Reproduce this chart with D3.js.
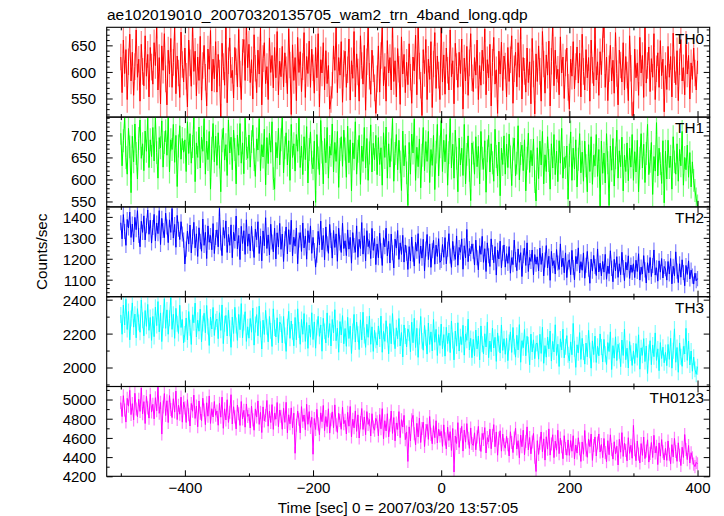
<!DOCTYPE html>
<html><head><meta charset="utf-8">
<script src="https://cdn.jsdelivr.net/npm/d3@7"></script>
<style>body{margin:0;background:#fff} svg{display:block} text{font-family:"Liberation Sans",Arial,Helvetica,sans-serif;fill:#000}</style>
</head><body><svg id="c" width="724" height="516"></svg>
<script>
const title = "ae102019010_20070320135705_wam2_trn_4band_long.qdp";
const xLabel = "Time [sec] 0 = 2007/03/20 13:57:05";
const yLabel = "Counts/sec";
const bands = ["TH0","TH1","TH2","TH3","TH0123"];
const colors = ["#ff0000","#00ff00","#0000ff","#00ffff","#ff00ff"];
const tStart = -500, tStep = 2;
const xDomain = [-522, 419];
const xTicksMajor = [-400,-200,0,200,400];
const xTicksMinor = [-500,-300,-100,100,300];
const yDomains = [[515,684],[537.7,741.6],[1018.7,1447.8],[1888,2417.6],[4200,5135.6]];
const yTicksMajor = [[550,600,650],[550,600,650,700],[1100,1200,1300,1400],[2000,2200,2400],[4200,4400,4600,4800,5000]];
const yTicksMinor = [
  [520,530,540,560,570,580,590,610,620,630,640,660,670,680],
  [540,560,570,580,590,610,620,630,640,660,670,680,690,710,720,730,740],
  [1020,1040,1060,1080,1120,1140,1160,1180,1220,1240,1260,1280,1320,1340,1360,1380,1420,1440],
  [1900,2100,2300],
  [4300,4500,4700,4900,5100]
];
const errHalf = [25,26,36,47,68];

const th0 = [
628,561,660,597,642,548,619,671,583,637,556,610,679,590,624,545,652,601,574,668,592,633,553,646,609,
577,655,612,688,566,627,540,649,603,672,587,538,641,596,663,571,618,684,559,630,598,552,675,614,581,
645,592,534,660,617,573,691,601,639,555,628,584,667,547,612,650,590,536,643,605,678,564,624,587,657,
562,633,598,515,654,610,575,687,542,621,664,589,603,551,646,619,572,680,596,548,637,661,584,695,608,
652,580,623,549,670,607,561,641,596,683,538,625,655,578,610,548,664,599,631,570,646,589,676,557,620,
591,648,572,636,604,559,681,613,520,651,584,627,546,665,599,638,563,610,674,552,629,597,658,571,643,
608,560,646,589,672,534,623,598,655,566,640,578,612,530,548,575,649,603,685,561,627,594,657,543,616,
639,571,604,662,547,621,588,676,553,634,600,545,668,612,577,650,528,619,683,592,558,641,606,570,522,
587,649,562,631,684,574,610,545,659,598,627,566,690,582,621,553,644,605,539,666,596,633,561,618,576,
653,590,541,628,602,669,557,688,611,575,518,642,597,661,548,624,586,657,533,615,674,569,630,594,548,
690,581,632,558,645,603,566,679,591,621,540,654,610,571,637,597,662,530,626,583,648,556,617,672,589,
563,627,594,660,548,612,575,641,602,681,557,623,589,652,536,618,665,577,604,522,639,596,656,565,630,
611,553,646,582,623,668,541,606,637,572,655,590,687,549,627,601,562,645,580,619,540,663,596,521,634,
582,649,601,545,676,615,560,632,594,658,536,620,692,574,641,587,605,557,666,598,628,550,617,645,571,
530,624,592,657,568,610,647,579,635,553,671,601,566,642,589,627,545,660,603,574,688,585,619,556,638,
595,662,689,571,628,546,606,650,583,622,560,674,597,538,641,613,581,655,566,629,594,546,668,607,518,
520,643,589,617,556,665,598,631,552,684,579,612,647,563,625,590,672,548,606,636,571,659,593,624,525,
612,567,648,590,629,553,673,604,576,640,546,619,661,583,608,557,652,596,631,549,617,586,645,598,566,
621];

const th1 = [
705,631,688,742,650,612,716,674,570,698,640,726,659,601,693,735,648,681,620,710,664,739,627,690,652,
718,642,741,661,603,695,672,733,628,684,711,655,741,617,690,668,725,639,700,584,676,722,646,693,662,
690,618,731,659,704,637,675,741,595,683,650,719,626,696,664,738,612,687,645,709,578,671,727,640,698,
632,706,651,572,688,717,644,679,609,735,660,696,622,712,668,590,701,655,727,637,683,613,739,670,648,
701,628,686,723,645,607,692,667,738,620,679,651,714,588,695,636,705,662,731,602,578,684,649,716,633,
690,741,615,672,706,633,688,598,725,650,681,619,702,664,739,627,676,611,697,645,720,592,668,708,639,
624,687,548,702,649,611,734,662,590,693,638,718,603,675,655,726,617,684,641,709,582,668,697,630,712,
669,605,721,638,690,574,683,647,731,612,664,700,589,676,641,718,626,693,598,660,724,617,682,645,700,
611,695,634,672,587,706,650,719,603,681,628,667,738,596,659,702,622,689,640,575,710,631,677,615,541,
684,612,703,660,737,598,673,629,692,581,655,718,620,686,641,709,593,668,632,700,577,662,725,608,674,
734,618,689,640,702,587,661,738,626,680,603,712,648,572,694,633,671,609,725,590,657,699,621,552,683,
660,612,697,629,675,590,709,648,623,688,571,665,700,617,681,638,596,714,652,608,685,563,671,634,699,
612,680,627,703,651,586,669,694,608,637,722,599,659,678,620,690,574,648,705,616,666,631,692,595,551,
672,602,687,633,709,590,656,618,697,643,578,681,626,702,611,664,595,688,637,716,603,650,627,676,555,
655,708,598,671,624,690,583,646,704,615,662,596,687,631,572,679,618,697,589,655,631,702,607,668,540,
687,614,660,592,704,638,541,676,621,693,585,649,712,603,665,629,696,574,655,618,683,597,671,628,702,
598,663,617,689,572,648,704,626,680,593,659,725,611,641,684,566,652,619,729,608,671,636,591,688,547,
664,601,689,627,653,578,697,640,612,681,596,668,631,709,587,650,622,678,605,661,583,640,598,575,556,
540];

const th2 = [
1372,1295,1411,1330,1264,1388,1347,1423,1302,1366,1281,1398,1339,1430,1311,1257,1379,1326,1405,1290,1358,1433,1317,1384,1275,
1349,1412,1286,1371,1320,1430,1268,1393,1335,1301,1418,1352,1277,1386,1326,1440,1299,1364,1255,1407,1341,1292,1377,1318,1289,
1175,1246,1332,1270,1361,1228,1305,1374,1252,1319,1211,1348,1283,1236,1390,1264,1326,1201,1357,1279,1311,1243,1368,1225,1302,
1338,1257,1440,1276,1215,1349,1298,1381,1230,1316,1264,1362,1205,1327,1285,1404,1247,1311,1196,1355,1273,1334,1221,1386,1260,
1319,1238,1355,1272,1206,1341,1291,1377,1225,1308,1190,1333,1262,1396,1249,1314,1218,1365,1280,1233,1346,1199,1324,1256,1369,
1245,1318,1187,1296,1352,1223,1339,1268,1384,1214,1303,1260,1347,1176,1290,1325,1235,1371,1252,1309,1198,1334,1277,1357,1226,
1302,1239,1160,1217,1331,1266,1380,1243,1311,1195,1352,1271,1226,1364,1288,1203,1335,1254,1319,1188,1346,1276,1230,1370,1249,
1286,1215,1338,1246,1302,1179,1325,1263,1231,1357,1207,1293,1249,1373,1222,1310,1190,1334,1258,1286,1201,1345,1240,1297,1172,
1271,1205,1322,1238,1168,1300,1257,1346,1214,1283,1180,1318,1229,1156,1294,1251,1335,1197,1276,1221,1312,1184,1266,1227,1149,
1258,1189,1304,1222,1165,1279,1236,1320,1178,1261,1203,1293,1142,1247,1316,1196,1271,1159,1238,1288,1174,1265,1211,1296,1183,
1192,1268,1207,1301,1176,1245,1320,1213,1159,1283,1226,1197,1309,1169,1254,1231,1295,1150,1262,1204,1340,1186,1249,1224,1271,
1236,1170,1289,1205,1147,1262,1221,1307,1183,1248,1139,1276,1214,1163,1295,1230,1181,1258,1122,1241,1199,1284,1157,1227,1266,
1160,1224,1178,1258,1131,1205,1172,1289,1196,1143,1247,1183,1229,1115,1214,1251,1168,1276,1139,1206,1187,1242,1123,1220,1174,
1209,1142,1251,1173,1226,1118,1194,1263,1156,1212,1097,1235,1167,1191,1127,1244,1180,1149,1271,1161,1203,1133,1228,1110,1185,
1195,1124,1240,1158,1099,1211,1176,1252,1132,1186,1145,1228,1107,1169,1235,1150,1083,1198,1141,1216,1163,1120,1247,1137,1179,
1118,1187,1136,1221,1102,1165,1129,1238,1154,1090,1197,1142,1210,1111,1176,1124,1231,1158,1095,1183,1146,1214,1106,1170,1135,
1176,1110,1193,1139,1224,1098,1160,1127,1215,1147,1084,1181,1133,1206,1115,1168,1242,1122,1157,1093,1190,1136,1201,1108,1163,
1152,1098,1187,1127,1201,1080,1164,1119,1233,1141,1086,1176,1112,1195,1134,1071,1168,1125,1190,1103,1146,1117,1079,1131,1095,
1105];

const th3 = [
2310,2196,2368,2251,2402,2224,2330,2163,2289,2381,2238,2315,2175,2347,2266,2208,2398,2279,2187,2336,2243,2372,2219,2295,2160,
2301,2182,2356,2247,2389,2210,2322,2153,2278,2405,2231,2340,2196,2290,2417,2225,2314,2172,2349,2258,2201,2367,2236,2283,2145,
2198,2292,2163,2330,2235,2136,2311,2264,2380,2180,2279,2214,2345,2152,2260,2320,2205,2366,2242,2130,2298,2227,2354,2189,2270,
2286,2170,2323,2219,2369,2141,2258,2307,2186,2338,2232,2119,2297,2201,2355,2248,2160,2313,2223,2377,2175,2265,2329,2154,2240,
2173,2289,2208,2350,2132,2254,2312,2187,2362,2226,2109,2279,2195,2337,2240,2151,2301,2216,2124,2346,2233,2180,2293,2146,2268,
2256,2145,2301,2189,2095,2240,2331,2172,2274,2210,2128,2295,2163,2346,2221,2137,2284,2196,2318,2154,2265,2113,2250,2179,2323,
2165,2269,2114,2236,2302,2184,2251,2096,2290,2213,2145,2322,2177,2259,2127,2283,2204,2341,2158,2232,2090,2271,2192,2306,2140,
2230,2125,2296,2171,2244,2083,2212,2313,2150,2268,2197,2106,2281,2163,2326,2189,2119,2255,2178,2304,2137,2240,2095,2219,2160,
2132,2245,2168,2303,2090,2213,2154,2276,2195,2081,2259,2140,2318,2183,2111,2234,2170,2289,2127,2206,2062,2251,2186,2121,2228,
2204,2093,2267,2146,2290,2118,2231,2060,2183,2301,2157,2102,2248,2175,2079,2262,2136,2210,2098,2283,2149,2225,2071,2194,2130,
2256,2110,2194,2067,2237,2141,2203,2088,2274,2159,2045,2215,2126,2264,2097,2182,2135,2249,2073,2198,2160,2285,2104,2172,2058,
2166,2069,2221,2110,2186,2045,2245,2137,2080,2199,2121,2267,2058,2156,2093,2232,2115,2178,2036,2204,2140,2085,2251,2101,2170,
2078,2172,2040,2147,2210,2089,2236,2123,2061,2190,2104,2253,2031,2158,2117,2224,2069,2184,2135,2016,2197,2092,2163,2052,2141,
2143,2049,2196,2083,2237,2025,2129,2061,2180,2110,2215,2038,2154,2092,2252,2071,2137,2006,2169,2104,2226,2057,2122,2188,2075,
2039,2151,2075,2260,2110,2001,2134,2087,2206,2048,2172,2092,2020,2144,2063,2219,2101,1996,2157,2076,2185,2030,2125,2069,2198,
2121,2033,2166,2078,2018,2147,2094,2210,1988,2129,2055,2181,2041,2137,2099,2005,2162,2071,2226,2046,2114,1997,2153,2085,2012,
2098,2024,2141,2059,2193,1990,2116,2072,2170,2035,2127,1965,2089,2158,2017,2133,2064,2204,2042,2110,1981,2147,2053,2120,2028,
2089,2011,2136,2048,2172,1996,2099,2228,2031,2118,1972,2145,2064,2007,2124,2080,2231,2042,2156,2015,2097,1978,2061,1989,1960,
2005];

const th0123 = [
4968,4822,5040,4890,4765,5012,4931,5096,4843,4957,4788,5065,4902,4820,5003,4876,5120,4851,4978,4750,5033,4913,4806,5054,4869,
4950,4798,5019,4882,5130,4856,4970,4640,4921,5062,4833,4987,4760,5041,4895,4812,5008,4869,5088,4791,4940,4847,5025,4764,4973,
4913,4761,4998,4842,4724,4959,4878,5046,4803,4932,4716,4985,4857,4780,5014,4890,4738,4966,4826,5037,4751,4904,4818,4979,4836,
4881,4732,4960,4816,5025,4700,4903,4787,4998,4761,4868,5050,4745,4925,4819,4693,4942,4851,4730,4979,4798,4887,4712,4954,4824,
4846,4703,4931,4788,4680,4902,4817,4985,4741,4866,4656,4923,4776,4834,4990,4722,4879,4760,4947,4689,4858,4795,4969,4717,4890,
4825,4690,4908,4762,4971,4653,4841,4747,4913,4703,4858,4440,4731,4880,4794,4652,4926,4771,4839,4685,4950,4742,4874,4710,4815,
4430,4802,4688,4897,4746,4633,4861,4769,4938,4676,4822,4717,4903,4650,4789,4871,4705,4944,4736,4658,4857,4781,4690,4920,4747,
4783,4641,4866,4722,4927,4610,4795,4705,4881,4668,4840,4599,4759,4906,4688,4818,4633,4874,4741,4792,4620,4852,4713,4680,4804,
4768,4621,4843,4695,4905,4590,4779,4672,4852,4611,4731,4880,4647,4812,4569,4756,4688,4874,4603,4790,4713,4835,4582,4662,4355,
4715,4570,4788,4835,4643,4528,4752,4610,4806,4552,4698,4764,4510,4676,4741,4585,4823,4637,4539,4727,4602,4779,4548,4690,4619,
4668,4512,4736,4590,4485,4712,4573,4665,4469,4698,4245,4620,4542,4759,4501,4639,4720,4463,4681,4556,4749,4597,4490,4704,4541,
4522,4653,4476,4611,4720,4534,4459,4646,4584,4707,4443,4603,4560,4691,4487,4625,4738,4508,4662,4420,4597,4674,4462,4640,4529,
4493,4617,4530,4412,4664,4553,4447,4598,4701,4484,4571,4392,4629,4508,4680,4425,4562,4715,4476,4604,4434,4557,4646,4399,4250,
4571,4428,4544,4662,4456,4590,4369,4612,4483,4694,4421,4537,4633,4395,4566,4472,4680,4436,4598,4508,4383,4623,4490,4419,4579,
4418,4572,4461,4623,4380,4526,4442,4601,4487,4355,4558,4430,4677,4475,4398,4589,4509,4640,4366,4521,4610,4412,4546,4641,4453,
4531,4395,4594,4448,4352,4571,4425,4632,4478,4379,4560,4433,4513,4318,4586,4451,4655,4407,4544,4470,4361,4602,4439,4523,4388,
4730,4476,4362,4567,4431,4340,4541,4418,4609,4385,4463,4580,4348,4439,4552,4396,4627,4444,4512,4322,4548,4410,4583,4455,4371,
4491,4366,4568,4429,4331,4530,4402,4595,4458,4356,4549,4420,4312,4503,4397,4635,4479,4374,4521,4338,4446,4392,4327,4301,4345,
4330];

const series = [th0, th1, th2, th3, th0123];

const svg = d3.select("#c");
const left = 106.7, right = 709.7, top0 = 27.3, panelH = 89.8;
const FONT = "Liberation Sans, Arial, Helvetica, sans-serif";
const x = d3.scaleLinear().domain(xDomain).range([left, right]);

svg.append("rect").attr("width",724).attr("height",516).attr("fill","#fff");
svg.append("text").attr("x",107).attr("y",20).attr("font-size",15.5).text(title);

function styleAxis(g, fs){
  g.select(".domain").remove();
  g.selectAll(".tick line").attr("stroke","#000").attr("stroke-width",1);
  g.selectAll(".tick text").attr("font-size",fs).attr("font-family",FONT).attr("fill","#000");
}

const defs = svg.append("defs");

series.forEach((vals,k)=>{
  const y0 = top0 + k*panelH, y1 = y0 + panelH;
  const y = d3.scaleLinear().domain(yDomains[k]).range([y1,y0]);
  defs.append("clipPath").attr("id","clip"+k).append("rect")
    .attr("x",left).attr("y",y0).attr("width",right-left).attr("height",panelH);
  const data = vals.map((v,i)=>({t: tStart + i*tStep, v}));
  const pg = svg.append("g").attr("clip-path",`url(#clip${k})`);
  pg.append("g").selectAll("line").data(data).join("line")
    .attr("x1",d=>x(d.t)).attr("x2",d=>x(d.t))
    .attr("y1",d=>y(d.v - errHalf[k])).attr("y2",d=>y(d.v + errHalf[k]))
    .attr("stroke",colors[k]).attr("stroke-opacity",0.5).attr("stroke-width",1.2);
  pg.append("path").datum(data).attr("fill","none").attr("stroke",colors[k]).attr("stroke-width",1)
    .attr("d", d3.line().x(d=>x(d.t)).y(d=>y(d.v)));

  const gL = svg.append("g").attr("transform",`translate(${left},0)`)
    .call(d3.axisLeft(y).tickValues(yTicksMajor[k]).tickSizeInner(-6).tickSizeOuter(0).tickPadding(10.7).tickFormat(d3.format("d")));
  styleAxis(gL, 15);
  gL.selectAll(".tick text").attr("dy","0.36em");
  const gLm = svg.append("g").attr("transform",`translate(${left},0)`)
    .call(d3.axisLeft(y).tickValues(yTicksMinor[k]).tickSizeInner(-3).tickSizeOuter(0).tickFormat(""));
  styleAxis(gLm, 15);
  const gR = svg.append("g").attr("transform",`translate(${right},0)`)
    .call(d3.axisRight(y).tickValues(yTicksMajor[k]).tickSizeInner(-6).tickSizeOuter(0).tickFormat(""));
  styleAxis(gR, 15);
  const gRm = svg.append("g").attr("transform",`translate(${right},0)`)
    .call(d3.axisRight(y).tickValues(yTicksMinor[k]).tickSizeInner(-3).tickSizeOuter(0).tickFormat(""));
  styleAxis(gRm, 15);

  const last = k === series.length - 1;
  const gB = svg.append("g").attr("transform",`translate(0,${y1})`)
    .call(d3.axisBottom(x).tickValues(xTicksMajor).tickSizeInner(-6).tickSizeOuter(0).tickPadding(6.2)
      .tickFormat(last ? d3.format("d") : ""));
  styleAxis(gB, 15);
  const gBm = svg.append("g").attr("transform",`translate(0,${y1})`)
    .call(d3.axisBottom(x).tickValues(xTicksMinor).tickSizeInner(-3).tickSizeOuter(0).tickFormat(""));
  styleAxis(gBm, 15);
  const gT = svg.append("g").attr("transform",`translate(0,${y0})`)
    .call(d3.axisTop(x).tickValues(xTicksMajor).tickSizeInner(-6).tickSizeOuter(0).tickFormat(""));
  styleAxis(gT, 15);
  const gTm = svg.append("g").attr("transform",`translate(0,${y0})`)
    .call(d3.axisTop(x).tickValues(xTicksMinor).tickSizeInner(-3).tickSizeOuter(0).tickFormat(""));
  styleAxis(gTm, 15);

  svg.append("rect").attr("x",left).attr("y",y0).attr("width",right-left).attr("height",panelH)
    .attr("fill","none").attr("stroke","#000").attr("stroke-width",1.1);

  svg.append("text").attr("x",704).attr("y",y0+16.2).attr("text-anchor","end")
    .attr("font-size",15.3).text(bands[k]);
});

svg.append("text").attr("x",398).attr("y",512.5).attr("text-anchor","middle")
  .attr("font-size",15.3).text(xLabel);
svg.append("text").attr("transform",`translate(47,${top0 + 2.5*panelH}) rotate(-90)`)
  .attr("text-anchor","middle").attr("font-size",15.3).text(yLabel);
</script>
</body></html>
